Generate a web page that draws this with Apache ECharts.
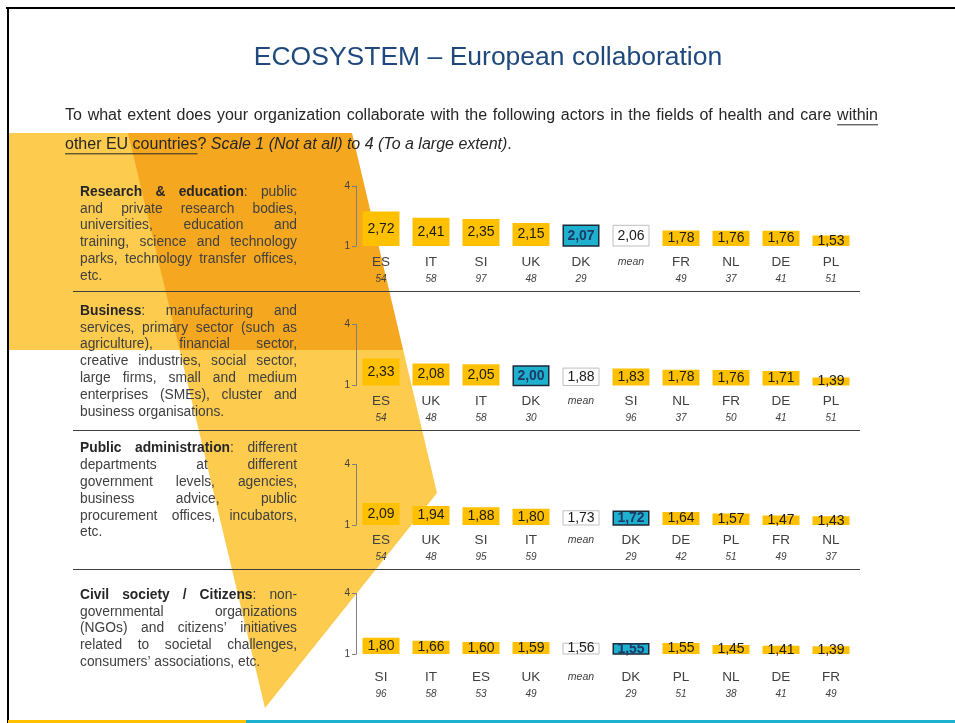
<!DOCTYPE html>
<html>
<head>
<meta charset="utf-8">
<script src="https://cdn.jsdelivr.net/npm/echarts@6/dist/echarts.min.js"></script>
<style>
  html, body { margin: 0; padding: 0; background: #fff; }
  #main { width: 955px; height: 723px; }
</style>
</head>
<body>
<div id="main"></div>
<script>
// panel data
var cats1 = ['ES', 'IT', 'SI', 'UK', 'DK', 'mean', 'FR', 'NL', 'DE', 'PL'];
var vals1 = [2.72, 2.41, 2.35, 2.15, 2.07, 2.06, 1.78, 1.76, 1.76, 1.53];
var n1 = [54, 58, 97, 48, 29, '', 49, 37, 41, 51];

var cats2 = ['ES', 'UK', 'IT', 'DK', 'mean', 'SI', 'NL', 'FR', 'DE', 'PL'];
var vals2 = [2.33, 2.08, 2.05, 2.00, 1.88, 1.83, 1.78, 1.76, 1.71, 1.39];
var n2 = [54, 48, 58, 30, '', 96, 37, 50, 41, 51];

var cats3 = ['ES', 'UK', 'SI', 'IT', 'mean', 'DK', 'DE', 'PL', 'FR', 'NL'];
var vals3 = [2.09, 1.94, 1.88, 1.80, 1.73, 1.72, 1.64, 1.57, 1.47, 1.43];
var n3 = [54, 48, 95, 59, '', 29, 42, 51, 49, 37];

var cats4 = ['SI', 'IT', 'ES', 'UK', 'mean', 'DK', 'PL', 'NL', 'DE', 'FR'];
var vals4 = [1.80, 1.66, 1.60, 1.59, 1.56, 1.55, 1.55, 1.45, 1.41, 1.39];
var n4 = [96, 58, 53, 49, '', 29, 51, 38, 41, 49];

var scaleTicks = [1, 4];

var text1 = [
  '**Research** **&** **education**: public',
  'and private research bodies,',
  'universities, education and',
  'training, science and technology',
  'parks, technology transfer offices,',
  'etc.'
];
var text2 = [
  '**Business**: manufacturing and',
  'services, primary sector (such as',
  'agriculture), financial sector,',
  'creative industries, social sector,',
  'large firms, small and medium',
  'enterprises (SMEs), cluster and',
  'business organisations.'
];
var text3 = [
  '**Public** **administration**: different',
  'departments at different',
  'government levels, agencies,',
  'business advice, public',
  'procurement offices, incubators,',
  'etc.'
];
var text4 = [
  '**Civil** **society** **/** **Citizens**: non-',
  'governmental organizations',
  '(NGOs) and citizens\u2019 initiatives',
  'related to societal challenges,',
  'consumers\u2019 associations, etc.'
];

var FONT = "'Liberation Sans', Arial, sans-serif";
var YELLOW = '#FFC000';
var TEAL = '#1DB1CF';

var chart = echarts.init(document.getElementById('main'));

var ctx = document.createElement('canvas').getContext('2d');
function measure(str, size, weight, style) {
  ctx.font = (style || 'normal') + ' ' + (weight || 'normal') + ' ' + size + 'px ' + FONT;
  return ctx.measureText(str).width;
}

var graphics = [];

// slide frame and background shapes
graphics.push(
  { type: 'polygon', z: 0, silent: true, shape: { points: [[8, 133], [200, 133], [200, 350], [8, 350]] }, style: { fill: '#FDCB4E' } },
  { type: 'polygon', z: 0, silent: true, shape: { points: [[128, 133], [352, 133], [403.2, 350], [179.6, 350]] }, style: { fill: '#F5A71F' } },
  { type: 'polygon', z: 0, silent: true, shape: { points: [[179.6, 350], [403.2, 350], [437, 493], [265, 708]] }, style: { fill: '#FDCB4E' } },
  { type: 'line', z: 1, silent: true, shape: { x1: 6, y1: 8, x2: 955, y2: 8 }, style: { stroke: '#000', lineWidth: 2 } },
  { type: 'line', z: 1, silent: true, shape: { x1: 8, y1: 8, x2: 8, y2: 723 }, style: { stroke: '#000', lineWidth: 2 } },
  { type: 'line', z: 1, silent: true, shape: { x1: 8, y1: 721.5, x2: 246, y2: 721.5 }, style: { stroke: YELLOW, lineWidth: 3 } },
  { type: 'line', z: 1, silent: true, shape: { x1: 246, y1: 721.5, x2: 955, y2: 721.5 }, style: { stroke: TEAL, lineWidth: 3 } }
);

// separators
[291.5, 430.5, 569.5].forEach(function (y) {
  graphics.push({ type: 'line', z: 1, silent: true, shape: { x1: 73, y1: y, x2: 860, y2: y }, style: { stroke: '#404040', lineWidth: 1.2 } });
});

// title
graphics.push({
  type: 'text', z: 10, x: 488, y: 58, silent: true,
  style: { text: 'ECOSYSTEM \u2013 European collaboration', fontSize: 26.5, fontFamily: FONT, fill: '#1F497D', align: 'center', verticalAlign: 'middle' }
});

// one text run at (x, y), optionally underlined; returns its width
function run(str, x, y, size, opts) {
  opts = opts || {};
  var w = measure(str, size, opts.bold ? 'bold' : 'normal', opts.italic ? 'italic' : 'normal');
  graphics.push({
    type: 'text', z: 10, x: x, y: y, silent: true,
    style: {
      text: str, fontSize: size, fontFamily: FONT,
      fontWeight: opts.bold ? 'bold' : 'normal', fontStyle: opts.italic ? 'italic' : 'normal',
      fill: opts.color || '#262626', verticalAlign: 'middle'
    }
  });
  if (opts.underline) {
    graphics.push({ type: 'line', z: 10, silent: true, shape: { x1: x, y1: y + size * 0.55, x2: x + w, y2: y + size * 0.55 }, style: { stroke: opts.color || '#262626', lineWidth: 1 } });
  }
  return w;
}

// question text, first line justified to the right margin
var qSize = 16;
var qWords = 'To what extent does your organization collaborate with the following actors in the fields of health and care within'.split(' ');
var qTotal = qWords.reduce(function (s, w) { return s + measure(w, qSize); }, 0);
var qGap = (878 - 65 - qTotal) / (qWords.length - 1);
var qx = 65;
qWords.forEach(function (w, i) {
  qx += run(w, qx, 116, qSize, { underline: i === qWords.length - 1 }) + qGap;
});
var x2 = 65;
x2 += run('other EU countries', x2, 145, qSize, { underline: true });
x2 += run('? ', x2, 145, qSize);
x2 += run('Scale 1 (Not at all) to 4 (To a large extent)', x2, 145, qSize, { italic: true });
run('.', x2, 145, qSize);

// justified paragraph, word by word
var BODY = 13.8;
function paragraph(lines, x0, x1, y0, lh) {
  lines.forEach(function (line, li) {
    var words = line.split(' ').map(function (w) {
      var parts = [];
      w.replace(/\*\*(.+?)\*\*|([^*]+)/g, function (m, b, n) {
        parts.push({ t: b || n, bold: !!b });
      });
      parts.forEach(function (p) { p.w = measure(p.t, BODY, p.bold ? 'bold' : 'normal'); });
      return { parts: parts, w: parts.reduce(function (s, p) { return s + p.w; }, 0) };
    });
    var total = words.reduce(function (s, w) { return s + w.w; }, 0);
    var last = li === lines.length - 1;
    var gap = (last || words.length < 2) ? measure(' ', BODY) : (x1 - x0 - total) / (words.length - 1);
    var x = x0;
    var y = y0 + li * lh;
    words.forEach(function (w) {
      var px = x;
      w.parts.forEach(function (p) {
        px += run(p.t, px, y, BODY, { bold: p.bold, color: p.bold ? '#262626' : '#404040' });
      });
      x += w.w + gap;
    });
  });
}
paragraph(text1, 80, 297, 192, 16.8);
paragraph(text2, 80, 297, 311, 16.8);
paragraph(text3, 80, 297, 448.5, 16.8);
paragraph(text4, 80, 297, 595, 16.8);

// chart panels
var panels = [
  { cats: cats1, vals: vals1, n: n1, top: 186, height: 60, margin: 7.5 },
  { cats: cats2, vals: vals2, n: n2, top: 324.5, height: 61, margin: 7 },
  { cats: cats3, vals: vals3, n: n3, top: 464.5, height: 60.5, margin: 6.5 },
  { cats: cats4, vals: vals4, n: n4, top: 593.5, height: 60.5, margin: 14.5 }
];

var grid = [], xAxis = [], yAxis = [], series = [];
panels.forEach(function (p, i) {
  grid.push({ left: 356, width: 500, top: p.top, height: p.height });
  xAxis.push({
    type: 'category', gridIndex: i, data: p.cats,
    axisLine: { show: false }, axisTick: { show: false },
    axisLabel: {
      interval: 0, margin: p.margin,
      formatter: function (v, idx) {
        var nn = p.n[idx] === '' ? ' ' : p.n[idx];
        return (v === 'mean' ? '{m|mean}' : '{c|' + v + '}') + '\n{n|' + nn + '}';
      },
      rich: {
        c: { fontSize: 13.5, fontFamily: FONT, color: '#404040', lineHeight: 17 },
        m: { fontSize: 10.5, fontFamily: FONT, fontStyle: 'italic', color: '#404040', lineHeight: 17 },
        n: { fontSize: 10, fontFamily: FONT, fontStyle: 'italic', color: '#404040', lineHeight: 17 }
      }
    }
  });
  yAxis.push({
    type: 'value', gridIndex: i, min: scaleTicks[0], max: scaleTicks[1], interval: scaleTicks[1] - scaleTicks[0],
    splitLine: { show: false },
    axisLine: { show: true, lineStyle: { color: '#7F7F7F', width: 1 } },
    axisTick: { show: true, length: 4, lineStyle: { color: '#7F7F7F' } },
    axisLabel: { fontSize: 10, fontFamily: FONT, color: '#404040', margin: 6 }
  });
  series.push({
    type: 'bar', xAxisIndex: i, yAxisIndex: i, barWidth: 37, silent: true,
    data: p.vals.map(function (v, j) {
      var c = p.cats[j];
      if (c === 'DK') {
        return { value: v, itemStyle: { color: TEAL, borderColor: '#1B2A38', borderWidth: 1.5 }, label: { color: '#1F3864', fontWeight: 'bold' } };
      }
      if (c === 'mean') {
        return { value: v, itemStyle: { color: '#fff', borderColor: '#BFBFBF', borderWidth: 1 } };
      }
      return { value: v, itemStyle: { color: YELLOW } };
    }),
    label: {
      show: true, position: 'inside', fontSize: 14, fontFamily: FONT, color: '#1a1a1a',
      formatter: function (d) { return d.value.toFixed(2).replace('.', ','); }
    }
  });
});

chart.setOption({
  animation: false,
  graphic: graphics,
  grid: grid,
  xAxis: xAxis,
  yAxis: yAxis,
  series: series
});
</script>
</body>
</html>
